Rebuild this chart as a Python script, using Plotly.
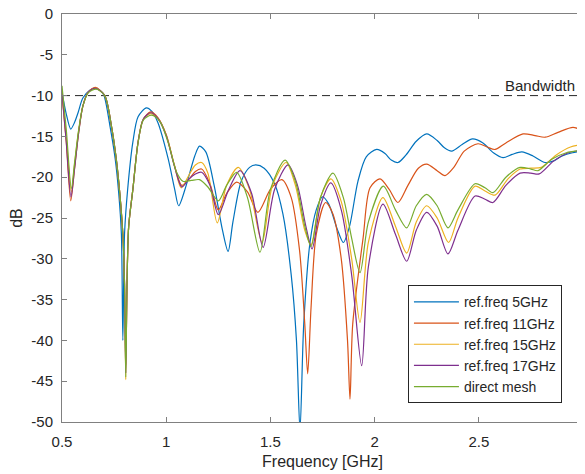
import plotly.graph_objects as go

# Reflection coefficient vs frequency for several reference frequencies
FREQ_5 = [0.50, 0.52, 0.542, 0.56, 0.577, 0.60, 0.635, 0.655, 0.68, 0.70, 0.73, 0.755, 0.772,
          0.785, 0.792, 0.80, 0.815, 0.84, 0.865, 0.905, 0.93, 0.96, 1.009, 1.04, 1.06, 1.096,
          1.137, 1.16, 1.19, 1.23, 1.27, 1.297, 1.32, 1.36, 1.40, 1.43, 1.47, 1.52, 1.56, 1.60,
          1.625, 1.642, 1.66, 1.69, 1.72, 1.75, 1.78, 1.82, 1.85, 1.88, 1.92, 1.96, 2.01, 2.05,
          2.08, 2.112, 2.15, 2.20, 2.25, 2.30, 2.335, 2.37, 2.42, 2.47, 2.52, 2.57, 2.616, 2.66,
          2.707, 2.76, 2.818, 2.86, 2.90, 2.95, 3.00]
DB_5 = [-9.6, -12.2, -14.1, -13.3, -12.1, -10.3, -9.3, -9.1, -9.3, -9.9, -13.7, -17.7, -21.9,
        -27.0, -40.0, -27.0, -21.5, -15.7, -12.6, -11.5, -11.9, -13.3, -17.7, -21.4, -23.5, -21.0,
        -17.4, -16.2, -16.9, -21.0, -26.5, -29.1, -25.5, -20.5, -18.8, -18.5, -18.9, -20.8, -24.5,
        -32.0, -40.0, -51.0, -38.0, -28.0, -24.0, -22.4, -23.3, -26.3, -28.0, -26.0, -20.5, -17.5,
        -16.6, -17.1, -17.9, -18.2, -17.3, -15.6, -14.7, -15.5, -16.4, -16.8, -16.0, -15.3, -15.8,
        -17.0, -17.6, -17.2, -16.9, -17.4, -18.2, -18.0, -17.4, -17.0, -16.8]

FREQ_11 = [0.50, 0.52, 0.542, 0.56, 0.58, 0.60, 0.625, 0.66, 0.705, 0.737, 0.76, 0.777, 0.792,
           0.80, 0.806, 0.812, 0.82, 0.84, 0.865, 0.89, 0.925, 0.96, 1.00, 1.04, 1.075, 1.11,
           1.14, 1.17, 1.21, 1.25, 1.29, 1.338, 1.39, 1.44, 1.50, 1.555, 1.60, 1.64, 1.665, 1.679,
           1.695, 1.72, 1.765, 1.80, 1.84, 1.87, 1.882, 1.895, 1.945, 1.978, 2.026, 2.07, 2.112,
           2.16, 2.21, 2.25, 2.30, 2.338, 2.38, 2.43, 2.496, 2.54, 2.578, 2.63, 2.712, 2.77, 2.818,
           2.88, 2.952, 3.00]
DB_11 = [-9.8, -15.5, -22.9, -19.0, -14.5, -11.3, -9.6, -9.0, -10.0, -13.7, -17.7, -21.9, -27.0,
         -33.0, -43.0, -33.0, -26.0, -21.5, -15.7, -12.9, -12.0, -12.7, -14.8, -18.6, -21.0, -20.2,
         -19.3, -19.0, -20.8, -24.0, -22.0, -20.6, -21.8, -24.3, -21.5, -20.3, -22.5, -29.0, -38.0,
         -44.1, -36.0, -27.0, -23.1, -24.5, -30.0, -40.0, -47.2, -38.0, -27.4, -21.3, -20.2, -21.5,
         -23.1, -21.0, -18.9, -18.4, -19.2, -19.8, -18.8, -16.8, -15.9, -16.3, -16.6, -15.8, -14.7,
         -14.9, -15.1, -14.5, -13.9, -14.3]

FREQ_15 = [0.50, 0.52, 0.545, 0.56, 0.58, 0.60, 0.625, 0.66, 0.705, 0.737, 0.76, 0.777, 0.792,
           0.80, 0.806, 0.812, 0.82, 0.84, 0.865, 0.89, 0.925, 0.96, 1.00, 1.04, 1.072, 1.11,
           1.14, 1.17, 1.20, 1.245, 1.29, 1.346, 1.40, 1.46, 1.51, 1.575, 1.62, 1.665, 1.695, 1.74,
           1.79, 1.84, 1.89, 1.93, 1.97, 2.04, 2.10, 2.154, 2.20, 2.25, 2.30, 2.355, 2.40, 2.482,
           2.53, 2.578, 2.64, 2.698, 2.75, 2.80, 2.87, 2.94, 3.00]
DB_15 = [-9.6, -15.0, -21.8, -18.5, -14.3, -11.3, -9.6, -9.1, -10.0, -13.7, -17.7, -21.9, -27.0,
         -33.0, -44.8, -33.0, -26.0, -21.5, -15.7, -12.9, -12.2, -12.8, -14.8, -18.6, -21.3, -19.7,
         -18.5, -18.2, -19.5, -25.6, -21.0, -18.8, -21.5, -28.0, -21.0, -18.2, -21.0, -26.5, -28.3,
         -22.5, -20.2, -23.0, -30.0, -37.8, -28.0, -22.5, -26.0, -29.3, -25.5, -23.5, -25.0, -28.0,
         -25.0, -21.1, -21.7, -22.2, -20.2, -19.0, -18.9, -18.8, -17.3, -16.3, -16.0]

FREQ_17 = [0.50, 0.52, 0.543, 0.56, 0.58, 0.60, 0.625, 0.66, 0.705, 0.737, 0.76, 0.777, 0.792,
           0.80, 0.806, 0.812, 0.82, 0.84, 0.865, 0.89, 0.925, 0.96, 1.00, 1.04, 1.075, 1.11,
           1.14, 1.17, 1.21, 1.25, 1.30, 1.354, 1.41, 1.465, 1.52, 1.585, 1.63, 1.67, 1.70, 1.74,
           1.79, 1.84, 1.89, 1.938, 1.97, 2.04, 2.10, 2.154, 2.20, 2.25, 2.30, 2.352, 2.40, 2.482,
           2.53, 2.568, 2.63, 2.698, 2.75, 2.79, 2.86, 2.93, 3.00]
DB_17 = [-9.6, -15.5, -22.4, -19.0, -14.5, -11.3, -9.6, -9.1, -10.0, -13.7, -17.7, -21.9, -27.0,
         -33.0, -44.0, -33.0, -26.0, -21.5, -15.7, -12.9, -12.1, -12.8, -14.9, -18.7, -21.2, -20.2,
         -19.6, -19.4, -21.0, -24.6, -21.5, -19.2, -22.0, -28.6, -21.5, -18.5, -21.0, -26.0, -28.8,
         -23.5, -20.7, -24.0, -32.0, -43.1, -31.0, -23.3, -27.0, -30.3, -26.5, -24.3, -26.0, -29.4,
         -26.5, -22.3, -22.7, -23.1, -21.0, -19.5, -19.5, -19.6, -18.0, -17.0, -16.7]

FREQ_DIRECT = [0.50, 0.52, 0.545, 0.56, 0.58, 0.60, 0.625, 0.665, 0.705, 0.737, 0.76, 0.777, 0.792,
               0.80, 0.806, 0.812, 0.82, 0.84, 0.865, 0.89, 0.93, 0.97, 1.01, 1.05, 1.08, 1.12,
               1.16, 1.20, 1.25, 1.29, 1.338, 1.39, 1.45, 1.50, 1.57, 1.62, 1.665, 1.695, 1.74,
               1.80, 1.85, 1.89, 1.93, 1.97, 2.042, 2.10, 2.154, 2.20, 2.25, 2.30, 2.352, 2.40,
               2.482, 2.53, 2.568, 2.63, 2.698, 2.75, 2.784, 2.85, 2.92, 3.00]
DB_DIRECT = [-8.8, -14.0, -21.4, -18.3, -14.2, -11.3, -9.7, -9.2, -10.0, -13.7, -17.7, -21.9, -27.0,
             -33.0, -44.5, -33.0, -26.0, -21.5, -15.8, -13.0, -12.4, -13.2, -15.8, -19.4, -20.5,
             -20.4, -20.3, -21.2, -22.9, -21.0, -19.4, -22.5, -29.2, -21.5, -17.9, -20.5, -26.0,
             -28.5, -22.5, -19.5, -22.5, -27.5, -31.7, -25.5, -21.1, -24.0, -26.2, -23.5, -22.1,
             -23.5, -26.2, -24.0, -20.8, -21.3, -21.9, -20.0, -18.8, -19.0, -19.2, -17.8, -17.0,
             -16.7]

SERIES = [
    ("ref.freq 5GHz", FREQ_5, DB_5, "#0072BD"),
    ("ref.freq 11GHz", FREQ_11, DB_11, "#D95319"),
    ("ref.freq 15GHz", FREQ_15, DB_15, "#EDB120"),
    ("ref.freq 17GHz", FREQ_17, DB_17, "#7E2F8E"),
    ("direct mesh", FREQ_DIRECT, DB_DIRECT, "#77AC30"),
]
BANDWIDTH_DB = -10
X_TICKS = [0.5, 1, 1.5, 2, 2.5, 3]
X_TICK_TEXT = ["0.5", "1", "1.5", "2", "2.5", "3"]
Y_TICKS = [0, -5, -10, -15, -20, -25, -30, -35, -40, -45, -50]
Y_TICK_TEXT = ["0", "-5", "-10", "-15", "-20", "-25", "-30", "-35", "-40", "-45", "-50"]

FONT = "Liberation Sans, Arial, sans-serif"
TEXT_COLOR = "#262626"
AXIS_COLOR = "#808080"

fig = go.Figure()

# bandwidth threshold
fig.add_trace(
    go.Scatter(
        x=[X_TICKS[0], X_TICKS[-1]],
        y=[BANDWIDTH_DB, BANDWIDTH_DB],
        mode="lines",
        line=dict(color="#262626", width=1, dash="8px,5px"),
        showlegend=False,
        hoverinfo="skip",
    )
)

for name, freq, db, color in SERIES:
    fig.add_trace(
        go.Scatter(
            x=freq,
            y=db,
            mode="lines",
            name=name,
            line=dict(color=color, width=1.2, shape="spline", smoothing=0.8),
        )
    )

fig.add_annotation(
    x=0.988,
    xref="paper",
    y=BANDWIDTH_DB,
    yref="y",
    text="Bandwidth",
    showarrow=False,
    xanchor="right",
    yanchor="bottom",
    font=dict(family=FONT, size=15, color=TEXT_COLOR),
)

axis_common = dict(
    showline=True,
    linecolor=AXIS_COLOR,
    linewidth=1,
    mirror="ticks",
    ticks="inside",
    ticklen=5,
    tickcolor=AXIS_COLOR,
    showgrid=False,
    zeroline=False,
    automargin=False,
    ticklabeloverflow="allow",
    tickfont=dict(family=FONT, size=15, color=TEXT_COLOR),
)

# the page body adds an 8px offset, so the figure is 8px smaller and margins shifted
fig.update_layout(
    width=577,
    height=466,
    margin=dict(l=54, r=2, t=6, b=52),
    paper_bgcolor="white",
    plot_bgcolor="white",
    font=dict(family=FONT, color=TEXT_COLOR),
    xaxis=dict(
        range=[0.5, 3],
        tickvals=X_TICKS,
        ticktext=X_TICK_TEXT,
        ticklabelstandoff=6,
        title=dict(text="Frequency [GHz]", font=dict(family=FONT, size=16, color=TEXT_COLOR),
                   standoff=6),
        **axis_common,
    ),
    yaxis=dict(
        range=[-50, 0],
        tickvals=Y_TICKS,
        ticktext=Y_TICK_TEXT,
        ticklabelstandoff=5,
        title=dict(text="dB", font=dict(family=FONT, size=16, color=TEXT_COLOR), standoff=4),
        **axis_common,
    ),
    legend=dict(
        x=0.664,
        y=0.046,
        xanchor="left",
        yanchor="bottom",
        bgcolor="white",
        bordercolor="#262626",
        borderwidth=1,
        itemwidth=45,
        font=dict(family=FONT, size=14, color=TEXT_COLOR),
        tracegroupgap=0,
    ),
)

fig.write_html("out.html")
